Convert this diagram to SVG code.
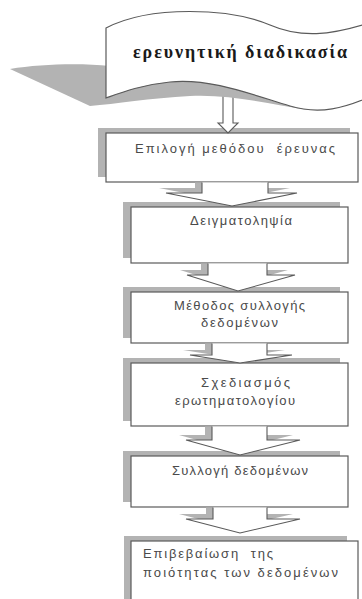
<svg xmlns="http://www.w3.org/2000/svg" width="362" height="599" viewBox="0 0 362 599">
<style>
.bg{fill:#ffffff}
.sh{fill:#b3b3b3;stroke:none}
.box{fill:#ffffff;stroke:#5a5a5a;stroke-width:1.2}
.arr{fill:#ffffff;stroke:#5a5a5a;stroke-width:1.1;stroke-linejoin:miter}
.t{font-family:"Liberation Sans","DejaVu Sans",sans-serif;font-size:13px;fill:#4a4a4a;white-space:pre}
.title{font-family:"Liberation Serif","DejaVu Serif",serif;font-size:18px;font-weight:bold;fill:#1a1a1a}
</style>
<rect class="bg" x="0" y="0" width="362" height="599"/>

<g id="node-1">
  <rect class="sh" x="98" y="128" width="252" height="49"/>
  <rect class="box" x="106" y="133" width="252" height="49"/>
  <text class="t" x="135" y="153" textLength="200" lengthAdjust="spacing" xml:space="preserve">Επιλογή μεθόδου  έρευνας</text>
</g>
<g id="node-2">
  <rect class="sh" x="123" y="202" width="217" height="56"/>
  <rect class="box" x="131" y="207" width="217" height="56"/>
  <text class="t" x="190" y="225" textLength="102" lengthAdjust="spacing">Δειγματοληψία</text>
</g>
<g id="node-3">
  <rect class="sh" x="123" y="287" width="217" height="51"/>
  <rect class="box" x="131" y="292" width="217" height="51"/>
  <text class="t" x="174" y="310" textLength="131" lengthAdjust="spacing">Μέθοδος συλλογής</text>
  <text class="t" x="201" y="327" textLength="77" lengthAdjust="spacing">δεδομένων</text>
</g>
<g id="node-4">
  <rect class="sh" x="123" y="358" width="217" height="63"/>
  <rect class="box" x="131" y="363" width="217" height="63"/>
  <text class="t" x="201" y="387" textLength="89" lengthAdjust="spacing">Σχεδιασμός</text>
  <text class="t" x="175" y="405" textLength="120" lengthAdjust="spacing">ερωτηματολογίου</text>
</g>
<g id="node-5">
  <rect class="sh" x="123" y="451" width="217" height="51"/>
  <rect class="box" x="131" y="456" width="217" height="51"/>
  <text class="t" x="172" y="475" textLength="136" lengthAdjust="spacing">Συλλογή δεδομένων</text>
</g>
<g id="node-6">
  <rect class="sh" x="124" y="536" width="223" height="70"/>
  <rect class="box" x="131" y="541" width="227" height="70"/>
  <text class="t" x="143" y="558" textLength="130" lengthAdjust="spacing" xml:space="preserve">Επιβεβαίωση  της</text>
  <text class="t" x="143" y="577" textLength="195" lengthAdjust="spacing">ποιότητας των δεδομένων</text>
</g>

<g id="connectors">
  <path class="arr" d="M223,85 L223,123 L218,123 L228,133 L238,123 L233,123 L233,85"/>

  <path class="sh" d="M195,182.6 L195,188 L159,188 L225,201 L290,188 L261,188 L261,182.6 Z"/>
  <path class="arr" d="M202,182.6 L202,193 L166,193 L232,206 L297,193 L268,193 L268,182.6"/>

  <path class="sh" d="M201,263.6 L201,270 L180,270 L231,286 L288,270 L260,270 L260,263.6 Z"/>
  <path class="arr" d="M208,263.6 L208,275 L187,275 L238,291 L295,275 L267,275 L267,263.6"/>

  <path class="sh" d="M205,343.6 L205,350 L183,350 L233,358 L285,350 L260,350 L260,343.6 Z"/>
  <path class="arr" d="M212,343.6 L212,355 L190,355 L240,363 L292,355 L267,355 L267,343.6"/>

  <path class="sh" d="M205,426.6 L205,435 L179,435 L233,450 L293,435 L260,435 L260,426.6 Z"/>
  <path class="arr" d="M212,426.6 L212,440 L186,440 L240,455 L300,440 L267,440 L267,426.6"/>

  <path class="sh" d="M206,507.6 L206,514 L179,514 L233,528 L293,514 L260,514 L260,507.6 Z"/>
  <path class="arr" d="M213,507.6 L213,519 L186,519 L240,533 L300,519 L267,519 L267,507.6"/>
</g>

<g id="node-banner">
  <path class="sh" d="M10,69 C40,64 80,63 110,66 L330,100 C322,106 316,110 308,110 C270,104 230,94 190,96 C150,98 115,104 90,106 Z"/>
  <path class="box" d="M106,28 C150,5 230,8 270,25 C300,38 330,36 372,22 L372,96 C345,108 320,115 290,106 C250,94 210,78 170,82 C140,85 120,93 106,98 Z"/>
  <text class="title" x="133" y="58" textLength="214" lengthAdjust="spacing">ερευνητική διαδικασία</text>
</g>
</svg>
